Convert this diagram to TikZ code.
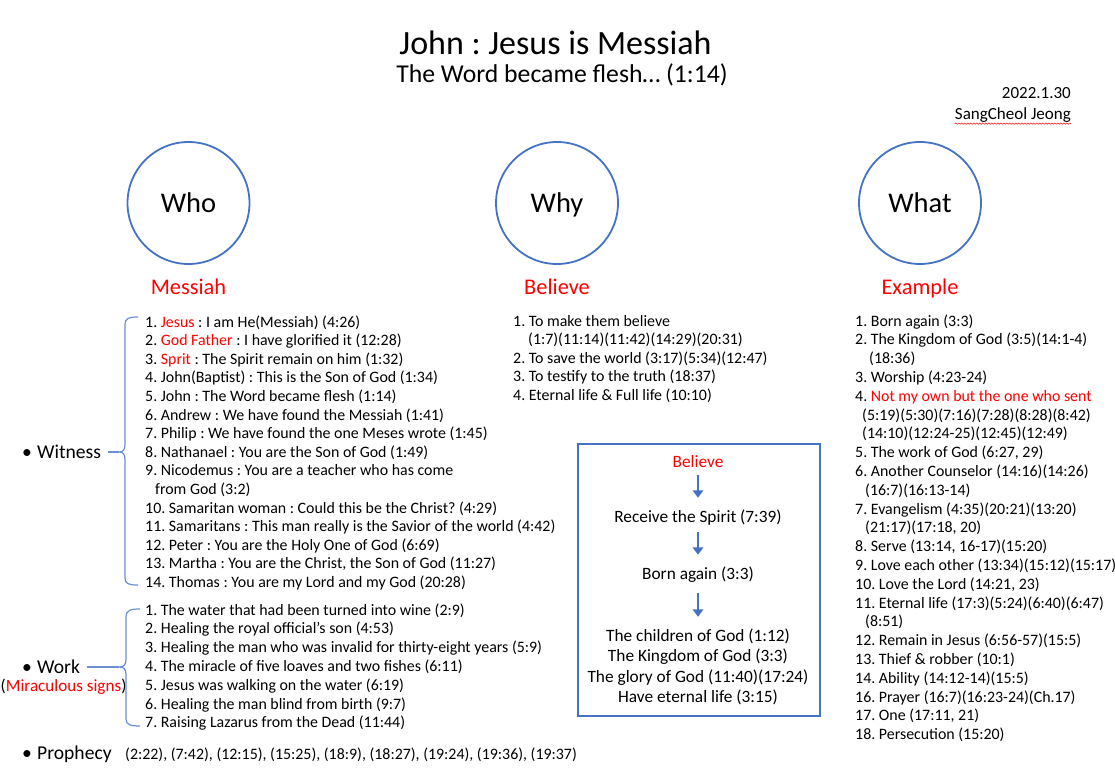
\documentclass[tikz,border=0pt]{standalone}
\usepackage{fontspec}
\setmainfont{Carlito}
\usetikzlibrary{arrows.meta,decorations.pathmorphing}
\definecolor{wblue}{HTML}{4472C4}
\definecolor{wred}{HTML}{FF0000}
\definecolor{brblue}{HTML}{6A8FD3}
\frenchspacing
\begin{document}
\begin{tikzpicture}[x=1pt,y=-1pt,
  lst/.style={anchor=base west, inner sep=0pt, font=\fontsize{15.9}{18}\selectfont},
  ctr/.style={anchor=base, inner sep=0pt, text height=12pt, text depth=4pt, font=\fontsize{17.3}{20}\selectfont},
  head/.style={anchor=base, inner sep=0pt, text=wred, font=\fontsize{22.4}{26}\selectfont},
  bigc/.style={circle, draw=wblue, line width=1.8pt, minimum size=122pt, inner sep=0pt, text height=20pt, text depth=2pt, font=\fontsize{28.5}{32}\selectfont},
  lab/.style={anchor=base west, inner sep=0pt, font=\fontsize{19.6}{22}\selectfont},
  date/.style={anchor=base east, inner sep=0pt, font=\fontsize{17}{20}\selectfont},
  brc/.style={draw=brblue, line width=1.2pt},
  flow/.style={draw=wblue, line width=2.6pt, -{Triangle[width=10.5pt,length=7.5pt]}}
]
\frenchspacing
\useasboundingbox (0,0) rectangle (1115,770);

% title
\node[anchor=base, inner sep=0pt, font=\fontsize{34}{40}\selectfont] (title) at (555.5,55) {John : Jesus is Messiah};
\node[anchor=base, inner sep=0pt, font=\fontsize{25.7}{30}\selectfont] (sub) at (562,83) {The Word became flesh… (1:14)};
\node[date] (date) at (1071,99) {2022.1.30};
\node[date] (sang) at (1071,120) {SangCheol Jeong};
\draw[wred, line width=0.5pt, decorate, decoration={snake, amplitude=0.7pt, segment length=3pt}] ([yshift=-0.5pt]sang.south west) -- ([yshift=-0.5pt]sang.south east);

% circles
\node[bigc] (who) at (188.5,203) {Who};
\node[bigc] (why) at (557,203) {Why};
\node[bigc] (what) at (920,203) {What};
\node[head] (hm) at (188.5,294) {Messiah};
\node[head] (hb) at (557,294) {Believe};
\node[head] (he) at (920,294) {Example};

% left labels
\node[lab] (wit) at (22,458) {\makebox[15pt][l]{•}Witness};
\node[lab] (wrk) at (22,673) {\makebox[15pt][l]{•}Work};
\node[anchor=base west, inner sep=0pt, font=\fontsize{17.1}{20}\selectfont] (mir) at (0.5,691) {(\textcolor{wred}{Miraculous signs})};
\node[lab] (pro) at (22,759) {\makebox[15pt][l]{•}Prophecy};
\node[lst] (prefs) at (125,759) {(2:22), (7:42), (12:15), (15:25), (18:9), (18:27), (19:24), (19:36), (19:37)};

% witness list
\foreach \t [count=\i] in {
  1. \textcolor{wred}{Jesus} : I am He(Messiah) (4:26),
  2. \textcolor{wred}{God Father} : I have glorified it (12:28),
  3. \textcolor{wred}{Sprit} : The Spirit remain on him (1:32),
  4. John(Baptist) : This is the Son of God (1:34),
  5. John : The Word became flesh (1:14),
  6. Andrew : We have found the Messiah (1:41),
  7. Philip : We have found the one Meses wrote (1:45),
  8. Nathanael : You are the Son of God (1:49),
  9. Nicodemus : You are a teacher who has come,
  \hspace*{10pt}from God (3:2),
  10. Samaritan woman : Could this be the Christ? (4:29),
  11. Samaritans : This man really is the Savior of the world (4:42),
  12. Peter : You are the Holy One of God (6:69),
  {13. Martha : You are the Christ, the Son of God (11:27)},
  14. Thomas : You are my Lord and my God (20:28)}
  \node[lst] (w\i) at (145,{327+(\i-1)*18.6}) {\t};

% work list
\foreach \t [count=\i] in {
  1. The water that had been turned into wine (2:9),
  2. Healing the royal official’s son (4:53),
  3. Healing the man who was invalid for thirty-eight years (5:9),
  4. The miracle of five loaves and two fishes (6:11),
  5. Jesus was walking on the water (6:19),
  6. Healing the man blind from birth (9:7),
  7. Raising Lazarus from the Dead (11:44)}
  \node[lst] (k\i) at (145,{615+(\i-1)*18.8}) {\t};

% why list
\foreach \t [count=\i] in {
  1. To make them believe,
  \hspace*{15pt}(1:7)(11:14)(11:42)(14:29)(20:31),
  2. To save the world (3:17)(5:34)(12:47),
  3. To testify to the truth (18:37),
  4. Eternal life \& Full life (10:10)}
  \node[lst] (y\i) at (513,{326+(\i-1)*18.5}) {\t};

% what list
\foreach \t [count=\i] in {
  1. Born again (3:3),
  2. The Kingdom of God (3:5)(14:1-4),
  \hspace*{14pt}(18:36),
  3. Worship (4:23-24),
  4. \textcolor{wred}{Not my own but the one who sent},
  \hspace*{7pt}(5:19)(5:30)(7:16)(7:28)(8:28)(8:42),
  \hspace*{7pt}(14:10)(12:24-25)(12:45)(12:49),
  {5. The work of God (6:27, 29)},
  6. Another Counselor (14:16)(14:26),
  \hspace*{10pt}(16:7)(16:13-14),
  7. Evangelism (4:35)(20:21)(13:20),
  {\hspace*{10pt}(21:17)(17:18, 20)},
  {8. Serve (13:14, 16-17)(15:20)},
  9. Love each other (13:34)(15:12)(15:17),
  {10. Love the Lord (14:21, 23)},
  11. Eternal life (17:3)(5:24)(6:40)(6:47),
  \hspace*{10pt}(8:51),
  12. Remain in Jesus (6:56-57)(15:5),
  13. Thief \& robber (10:1),
  14. Ability (14:12-14)(15:5),
  16. Prayer (16:7)(16:23-24)(Ch.17),
  {17. One (17:11, 21)},
  18. Persecution (15:20)}
  \node[lst] (x\i) at (855,{326+(\i-1)*18.8}) {\t};

% braces
\coordinate (wtip) at (119,452);
\draw[brc] (138,317) .. controls (129,317) and (125,318) .. (125,325) -- (125,444)
  .. controls (125,450) and (123,452) .. (wtip)
  .. controls (123,452) and (125,454) .. (125,460) -- (125,578)
  .. controls (125,584) and (129,585) .. (138,585);
\draw[brc, shorten <=7pt] (wit.east |- wtip) -- (wtip);

\coordinate (ktip) at (119,667);
\draw[brc] (140,609) .. controls (131,609) and (126,610) .. (126,617) -- (126,659)
  .. controls (126,665) and (124,667) .. (ktip)
  .. controls (124,667) and (126,669) .. (126,675) -- (126,719)
  .. controls (126,725) and (131,726) .. (140,726);
\draw[brc, shorten <=7pt] (wrk.east |- ktip) -- (ktip);

% flow box
\node[draw=wblue, line width=1.2pt, minimum width=242pt, minimum height=272pt, inner sep=0pt] (box) at (699,580) {};
\node[ctr, text=wred] (bel) at (698,467) {Believe};
\node[ctr] (rec) at (698,522) {Receive the Spirit (7:39)};
\node[ctr] (born) at (698,579) {Born again (3:3)};
\node[ctr] (c1) at (698,641) {The children of God (1:12)};
\node[ctr] (c2) at (698,661.5) {The Kingdom of God (3:3)};
\node[ctr] (c3) at (698,682) {The glory of God (11:40)(17:24)};
\node[ctr] (c4) at (698,702.5) {Have eternal life (3:15)};
\draw[flow, shorten <=4pt, shorten >=12pt] (bel.south) -- (rec.north);
\draw[flow, shorten <=6pt, shorten >=12pt] (rec.south) -- (born.north);
\draw[flow, shorten <=10pt, shorten >=12pt] (born.south) -- (c1.north);
\end{tikzpicture}
\end{document}
